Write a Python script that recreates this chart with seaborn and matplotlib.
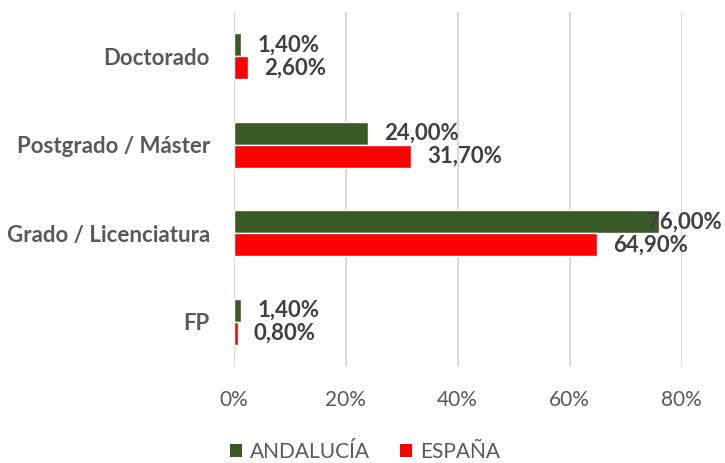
import matplotlib
matplotlib.use("Agg")
import matplotlib.pyplot as plt
import seaborn as sns
import pandas as pd
from matplotlib.patches import Patch

categories = ["Doctorado", "Postgrado / Máster", "Grado / Licenciatura", "FP"]
series = ["ANDALUCÍA", "ESPAÑA"]
andalucia = [1.40, 24.00, 76.00, 1.40]
espana = [2.60, 31.70, 64.90, 0.80]
xticks = [0, 20, 40, 60, 80]
colors = {"ANDALUCÍA": "#3A5A25", "ESPAÑA": "#FF0000"}

rows = []
for c, a, e in zip(categories, andalucia, espana):
    rows.append({"cat": c, "serie": "ANDALUCÍA", "val": a})
    rows.append({"cat": c, "serie": "ESPAÑA", "val": e})
df = pd.DataFrame(rows)

sns.set_style("white")
plt.rcParams["font.family"] = ["Lato", "DejaVu Sans"]

W, H = 725, 463
fig = plt.figure(figsize=(W / 100, H / 100), dpi=100)
ax = fig.add_axes([233.5 / W, 1 - 366 / H, (681.5 - 233.5) / W, (366 - 12) / H])

sns.barplot(data=df, y="cat", x="val", hue="serie", order=categories,
            hue_order=series, palette=colors, orient="h", width=0.52,
            ax=ax, legend=False, saturation=1, zorder=3)

ax.set_xlim(0, 80)
ax.set_xticks(xticks)
ax.set_xticklabels([f"{t}%" for t in xticks])
ax.set_xlabel("")
ax.set_ylabel("")
for s in ax.spines.values():
    s.set_visible(False)
ax.grid(axis="x", color="#d9d9d9", linewidth=1.5, zorder=0)
ax.grid(axis="y", visible=False)
ax.tick_params(axis="x", length=0, pad=17, labelsize=15, labelcolor="#595959")
ax.tick_params(axis="y", length=0, pad=17, labelsize=16, labelcolor="#595959")
for lbl in ax.get_yticklabels():
    lbl.set_fontweight("bold")

px_per_unit = (681.5 - 233.5) / 80
off = 16 / px_per_unit
right_limit = (722 - 233.5) / px_per_unit
for cont in ax.containers:
    for bar in cont:
        v = bar.get_width()
        yc = bar.get_y() + bar.get_height() / 2
        txt = f"{v:.2f}%".replace(".", ",")
        if v + off + 13 > right_limit:
            ax.text(right_limit, yc, txt, ha="right", va="center", fontsize=16,
                    fontweight="bold", color="#404040", clip_on=False, zorder=5)
        else:
            ax.text(v + off, yc, txt, ha="left", va="center", fontsize=16,
                    fontweight="bold", color="#404040", clip_on=False, zorder=5)

handles = [Patch(facecolor=colors[s], edgecolor="none", label=s) for s in series]
leg = fig.legend(handles=handles, loc="center", bbox_to_anchor=(365 / W, 1 - 452 / H),
                 ncol=2, frameon=False, fontsize=15, handlelength=0.6, handleheight=0.6,
                 handletextpad=0.4, columnspacing=1.4)
for t in leg.get_texts():
    t.set_color("#595959")

fig.savefig("out.png", dpi=100)
